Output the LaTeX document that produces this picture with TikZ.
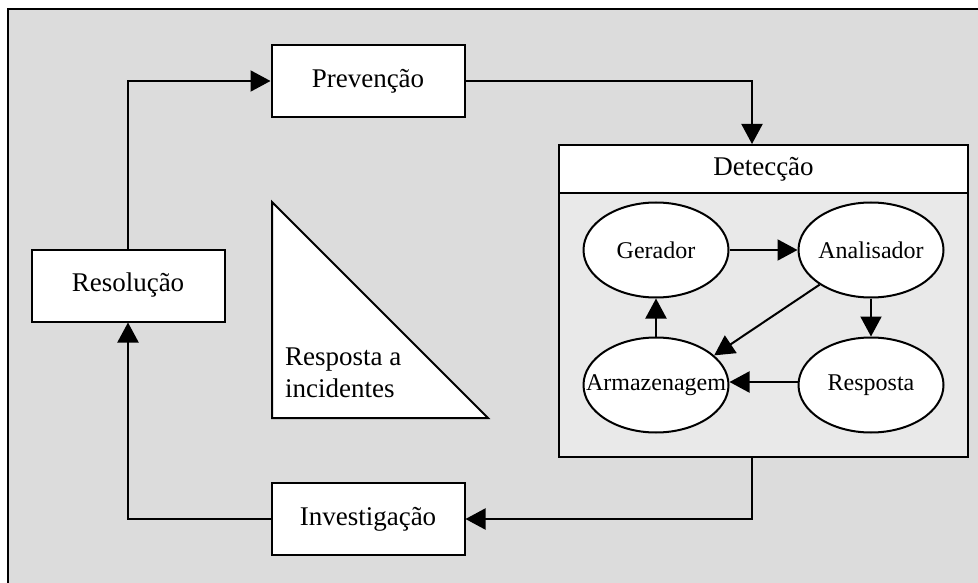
\documentclass[tikz,border=0pt]{standalone}
\usepackage{fontspec}
\setmainfont{Liberation Serif}
\usetikzlibrary{shapes.geometric,arrows.meta}

\definecolor{panelgray}{HTML}{DCDCDC}
\definecolor{bodygray}{HTML}{E9E9E9}

\tikzset{
  stagebox/.style={draw=black, line width=2pt, fill=white, rectangle,
    minimum width=193pt, minimum height=72pt, inner sep=0pt,
    font=\fontsize{27}{31}\selectfont},
  compnode/.style={draw=black, line width=2pt, fill=white, ellipse,
    minimum width=145pt, minimum height=95pt, inner sep=0pt,
    font=\fontsize{24}{28}\selectfont},
  flow/.style={draw=black, line width=2pt,
    -{Triangle[length=20pt,width=21pt]}},
}
% label of fixed-size ellipse: zero-width box so the shape keeps its size
\newcommand{\complabel}[1]{\makebox[0pt]{#1}}

\begin{document}
\begin{tikzpicture}[x=1pt,y=-1pt]
  \useasboundingbox (0,0) rectangle (978,583);
  \clip (0,0) rectangle (978,583);

  % outer panel (runs past the right and bottom edges)
  \draw[line width=2.5pt, fill=panelgray] (8,9) rectangle (1000,610);

  % the stages of the cycle
  \node[stagebox] (prev)  at (368,81)    {Prevenção};
  \node[stagebox] (resol) at (128,285.5) {Resolução};
  \node[stagebox] (inv)   at (368,519)   {Investigação};

  % detection block: header plus body
  \node[draw=black, line width=2pt, fill=bodygray, rectangle,
        minimum width=409pt, minimum height=312pt, inner sep=0pt]
        (det) at (763.5,301) {};
  \node[draw=black, line width=2pt, fill=white, rectangle,
        minimum width=409pt, minimum height=48pt, inner sep=0pt,
        font=\fontsize{27}{31}\selectfont]
        (dethead) at (763.5,169) {Detecção};

  % components inside the detection block
  \node[compnode] (ger) at (656,250) {\complabel{Gerador}};
  \node[compnode] (ana) at (871,250) {\complabel{Analisador}};
  \node[compnode] (arm) at (656,385) {\complabel{Armazenagem}};
  \node[compnode] (res) at (871,385) {\complabel{Resposta}};

  \draw[flow] (ger) -- (ana);
  \draw[flow] (ana) -- (res);
  \draw[flow] (ana.214) -- (arm.27);
  \draw[flow] ([yshift=3pt]res.west) -- ([yshift=3pt]arm.east);
  \draw[flow] (arm) -- (ger);

  % incident-response triangle
  \draw[line width=2pt, fill=white] (272,202) -- (272,418) -- (488,418) -- cycle;
  \node[anchor=base west, align=left, inner sep=0pt,
        font=\fontsize{27}{32}\selectfont] (tri) at (285,397)
        {Resposta a\\incidentes};

  % cycle connectors
  \draw[flow] (resol.north) |- (prev.west);
  \draw[flow] (prev.east) -| ([xshift=-11.5pt]det.north);
  \draw[flow] ([xshift=-11.5pt]det.south) |- (inv.east);
  \draw[flow] (inv.west) -| (resol.south);
\end{tikzpicture}
\end{document}
